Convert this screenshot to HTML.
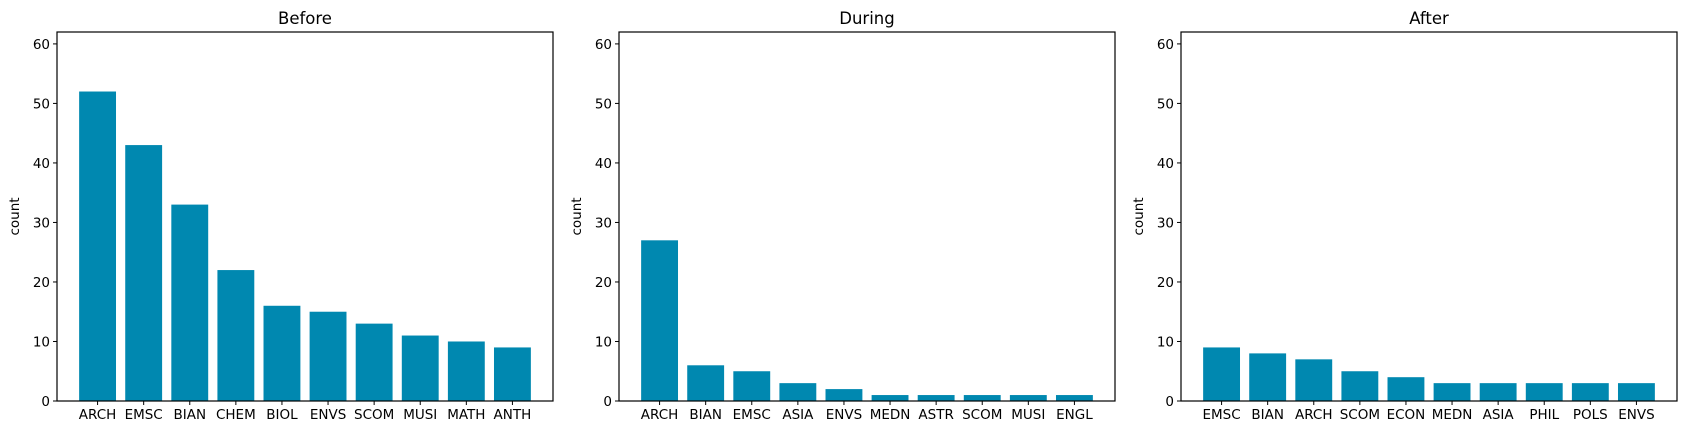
<!DOCTYPE html>
<html><head><meta charset="utf-8"><style>
body{margin:0;background:#fff;}
svg{display:block;font-family:"DejaVu Sans","Liberation Sans",sans-serif;}
</style></head><body>
<svg id="chart" width="1686" height="435"></svg>
<script>
const titles=["Before","During","After"];
const cats0=["ARCH","EMSC","BIAN","CHEM","BIOL","ENVS","SCOM","MUSI","MATH","ANTH"];
const vals0=[52,43,33,22,16,15,13,11,10,9];
const cats1=["ARCH","BIAN","EMSC","ASIA","ENVS","MEDN","ASTR","SCOM","MUSI","ENGL"];
const vals1=[27,6,5,3,2,1,1,1,1,1];
const cats2=["EMSC","BIAN","ARCH","SCOM","ECON","MEDN","ASIA","PHIL","POLS","ENVS"];
const vals2=[9,8,7,5,4,3,3,3,3,3];
const yTicks=[0,10,20,30,40,50,60];
const cats=[cats0,cats1,cats2], vals=[vals0,vals1,vals2];
const NS="http://www.w3.org/2000/svg";
const svg=document.getElementById('chart');
function mk(t,a,p){const e=document.createElementNS(NS,t);for(const k in a)e.setAttribute(k,a[k]);(p||svg).appendChild(e);return e;}
const lefts=[57,619,1181], W=496, axTop=32, bot=401, ymax=62;
const y=v=>bot-(v/ymax)*(bot-axTop);
for(let p=0;p<3;p++){
  const L=lefts[p];
  const g=mk('g',{});
  
  
  const n=cats[p].length;
  const x0=-0.4-0.049*(n-0.2), x1=n-1+0.4+0.049*(n-0.2);
  const x=v=>L+(v-x0)/(x1-x0)*W;
  const bw=0.8*W/(x1-x0);
  vals[p].forEach((v,i)=>{
    const r=mk('rect',{x:x(i)-bw/2,y:y(v),width:bw,height:bot-y(v),fill:'#0088b0'},g);
    
    
    mk('line',{x1:x(i),x2:x(i),y1:bot,y2:bot+4,stroke:'#000','stroke-width':1},g);
    const t=mk('text',{x:x(i),y:bot+18,'text-anchor':'middle','font-size':13.5,fill:'#000'},g);
    t.textContent=cats[p][i];
    
    
  });
  yTicks.forEach(v=>{
    mk('line',{x1:L-4,x2:L,y1:y(v),y2:y(v),stroke:'#000','stroke-width':1},g);
    const t=mk('text',{x:L-7,y:y(v)+5,'text-anchor':'end','font-size':13.5,fill:'#000'},g);
    t.textContent=v;
    
    
  });
  const fr=mk('rect',{x:L,y:axTop,width:W,height:bot-axTop,fill:'none',stroke:'#000','stroke-width':1.2},g);
  
  
  const tt=mk('text',{x:L+W/2,y:24,'text-anchor':'middle','font-size':16.5,fill:'#000'},g);
  tt.textContent=titles[p];
  
  
  const yl=mk('text',{x:0,y:0,'text-anchor':'middle','font-size':13.5,fill:'#000',transform:`translate(${L-38},${(axTop+bot)/2}) rotate(-90)`},g);
  yl.textContent='count';
  
  
}
</script>
</body></html>
